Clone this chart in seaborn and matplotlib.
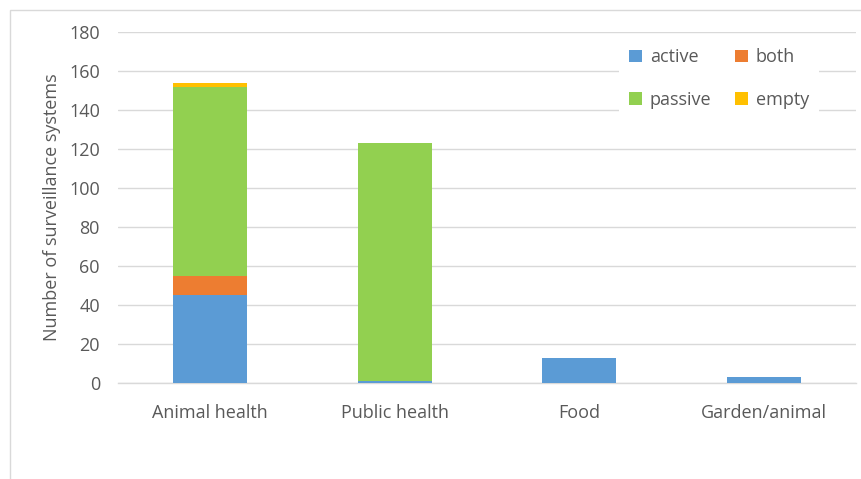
import matplotlib
matplotlib.use("Agg")
import matplotlib.pyplot as plt
import seaborn as sns
import pandas as pd
from matplotlib.patches import Patch, Rectangle

categories = ["Animal health", "Public health", "Food", "Garden/animal"]
active = [45, 1, 13, 3]
both = [10, 0, 0, 0]
passive = [97, 122, 0, 0]
empty = [2, 0, 0, 0]
series_names = ["active", "both", "passive", "empty"]
colors = ["#5B9BD5", "#ED7D31", "#92D050", "#FFC000"]
yticks = [0, 20, 40, 60, 80, 100, 120, 140, 160, 180]

sns.set_theme(style="white")
plt.rcParams["font.family"] = ["Open Sans", "DejaVu Sans"]
text_color = "#595959"

fig = plt.figure(figsize=(8.62, 4.79), dpi=100)
ax = fig.add_axes([118 / 862, 1 - 383 / 479, (856 - 118) / 862, (383 - 32) / 479])

df = pd.DataFrame({"category": categories, "active": active, "both": both,
                   "passive": passive, "empty": empty})
bottom = [0] * len(categories)
for name, col in zip(series_names, colors):
    vals = df[name].tolist()
    sns.barplot(data=df, x="category", y=name, color=col, width=0.4,
                bottom=bottom, ax=ax, saturation=1, zorder=3, linewidth=0)
    bottom = [b + v for b, v in zip(bottom, vals)]

ax.set_ylim(0, 180)
ax.set_xlim(-0.5, len(categories) - 0.5)
ax.set_yticks(yticks)
ax.set_yticklabels([str(t) for t in yticks])
ax.yaxis.grid(True, color="#D9D9D9", linewidth=1, zorder=0)
ax.set_axisbelow(True)
for s in ["top", "right", "left"]:
    ax.spines[s].set_visible(False)
ax.spines["bottom"].set_color("#D9D9D9")
ax.spines["bottom"].set_linewidth(1)
ax.tick_params(axis="both", length=0, labelsize=13, colors=text_color)
ax.tick_params(axis="x", pad=15)
ax.tick_params(axis="y", pad=13)
ax.set_xlabel("")
ax.set_ylabel("Number of surveillance systems", fontsize=13, color=text_color, labelpad=6)

handles = [Patch(facecolor=c, edgecolor="none", label=n) for n, c in zip(series_names, colors)]
order = [0, 2, 1, 3]
leg = ax.legend([handles[i] for i in order], [series_names[i] for i in order],
                ncol=2, loc="upper right", bbox_to_anchor=(0.962, 1.008),
                frameon=True, fontsize=13, handlelength=0.7, handleheight=0.7,
                handletextpad=0.45, columnspacing=1.3, labelspacing=1.35,
                borderpad=0.55, labelcolor=text_color)
leg.get_frame().set_facecolor("white")
leg.get_frame().set_edgecolor("none")
leg.get_frame().set_alpha(1)
leg.set_zorder(5)

fig.patches.append(Rectangle((10 / 862, -0.1), 1.2, 1 - 10 / 479 + 0.1,
                             transform=fig.transFigure, fill=False,
                             edgecolor="#D9D9D9", linewidth=1))

fig.savefig("out.png", dpi=100)
